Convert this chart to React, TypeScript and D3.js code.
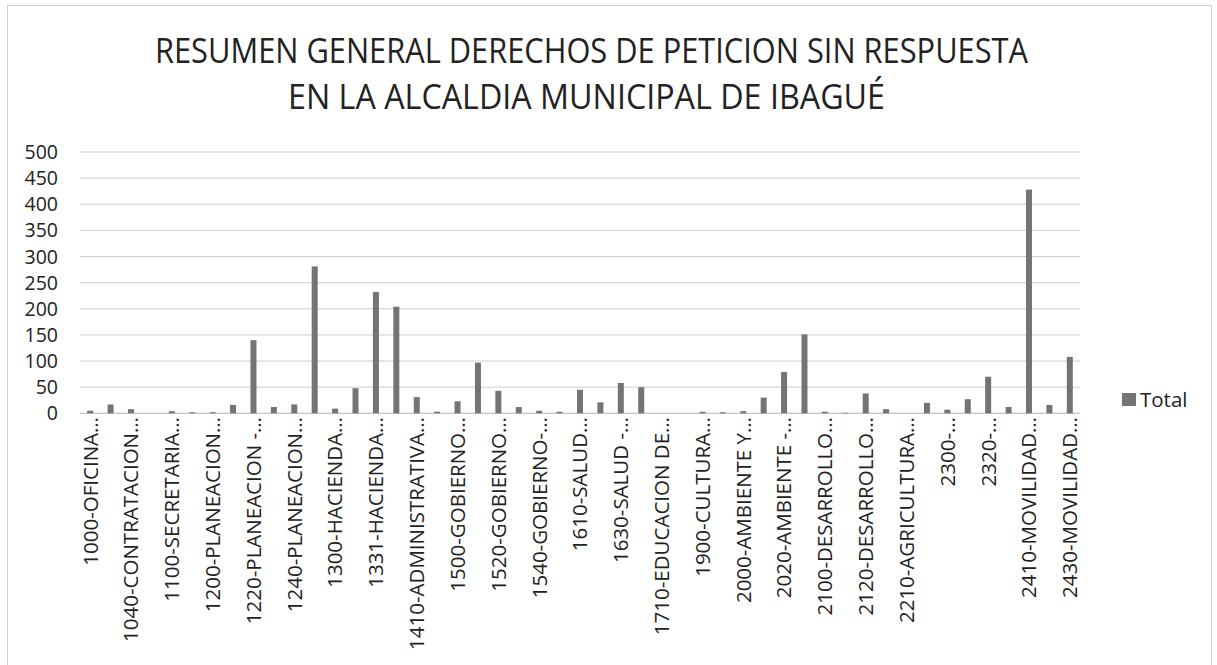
import React from "react";
import * as d3 from "d3";

const titleLines = [
  "RESUMEN GENERAL DERECHOS DE PETICION SIN RESPUESTA",
  "EN LA ALCALDIA MUNICIPAL DE IBAGUÉ",
];

// 49 categories; only every other one carries a visible (truncated) label
const categoryLabels = [
  "1000-OFICINA…", "", "1040-CONTRATACION…", "", "1100-SECRETARIA…", "",
  "1200-PLANEACION…", "", "1220-PLANEACION -…", "", "1240-PLANEACION…", "",
  "1300-HACIENDA…", "", "1331-HACIENDA…", "", "1410-ADMINISTRATIVA…", "",
  "1500-GOBIERNO…", "", "1520-GOBIERNO…", "", "1540-GOBIERNO-…", "",
  "1610-SALUD…", "", "1630-SALUD -…", "", "1710-EDUCACION DE…", "",
  "1900-CULTURA…", "", "2000-AMBIENTE Y…", "", "2020-AMBIENTE -…", "",
  "2100-DESARROLLO…", "", "2120-DESARROLLO…", "", "2210-AGRICULTURA…", "",
  "2300-…", "", "2320-…", "", "2410-MOVILIDAD…", "", "2430-MOVILIDAD…",
];

const totals = [
  5, 17, 8, 0, 4, 2, 2, 16, 140, 12, 17, 281, 9, 48, 232, 204, 31, 3, 23, 97,
  43, 12, 5, 3, 45, 21, 58, 50, 0, 0, 3, 2, 4, 30, 79, 151, 3, 1, 38, 8,
  0, 20, 7, 27, 70, 12, 428, 16, 108,
];

const yTicks = [0, 50, 100, 150, 200, 250, 300, 350, 400, 450, 500];
const seriesName = "Total";

const W = 1217;
const H = 665;
const plot = { left: 80, right: 1080, top: 152, bottom: 413.3 };
const FONT = "'Open Sans', 'Noto Sans', sans-serif";

export default function App() {
  const idx = d3.range(totals.length);
  const x = d3
    .scaleBand<number>()
    .domain(idx)
    .range([plot.left, plot.right])
    .paddingInner(0.7)
    .paddingOuter(0.35);
  const y = d3.scaleLinear().domain([0, 500]).range([plot.bottom, plot.top]);
  const center = (i: number) => (x(i) as number) + x.bandwidth() / 2;

  return (
    <svg
      width={W}
      height={H}
      style={{ position: "absolute", left: 0, top: 0, background: "#fff" }}
    >
      <rect x={0} y={0} width={W} height={H} fill="#fff" />
      <rect
        x={7.5}
        y={5.5}
        width={1204}
        height={680}
        fill="none"
        stroke="#cfcfcf"
        strokeWidth={1}
      />
      {/* title */}
      <text
        x={155}
        y={63}
        fontFamily={FONT}
        fontSize={34}
        fill="#222"
        textLength={873}
        lengthAdjust="spacingAndGlyphs"
      >
        {titleLines[0]}
      </text>
      <text
        x={288}
        y={109}
        fontFamily={FONT}
        fontSize={34}
        fill="#222"
        textLength={597}
        lengthAdjust="spacingAndGlyphs"
      >
        {titleLines[1]}
      </text>

      {/* gridlines */}
      {yTicks.map((t) => (
        <line
          key={"g" + t}
          x1={plot.left}
          x2={plot.right}
          y1={y(t)}
          y2={y(t)}
          stroke={t === 0 ? "#b5b5b5" : "#cdcdcd"}
          strokeWidth={1}
        />
      ))}
      {/* y tick labels */}
      {yTicks.map((t) => (
        <text
          key={"t" + t}
          x={58}
          y={y(t)}
          dy="0.36em"
          textAnchor="end"
          fontFamily={FONT}
          fontSize={19.5}
          fill="#222"
        >
          {t}
        </text>
      ))}

      {/* bars */}
      {totals.map((v, i) => (
        <rect
          key={"b" + i}
          x={center(i) - 3}
          y={y(v)}
          width={6}
          height={plot.bottom - y(v)}
          fill="#747474"
        />
      ))}

      {/* x labels */}
      {categoryLabels.map((lab, i) =>
        lab ? (
          <text
            key={"l" + i}
            transform={`translate(${center(i)},417) rotate(-90)`}
            dy="0.36em"
            textAnchor="end"
            fontFamily={FONT}
            fontSize={20.5}
            fill="#222"
          >
            {lab}
          </text>
        ) : null
      )}

      {/* legend */}
      <rect x={1122} y={393} width={14} height={13} fill="#747474" />
      <text x={1140} y={406.5} fontFamily={FONT} fontSize={20.5} fill="#222">
        {seriesName}
      </text>
    </svg>
  );
}
